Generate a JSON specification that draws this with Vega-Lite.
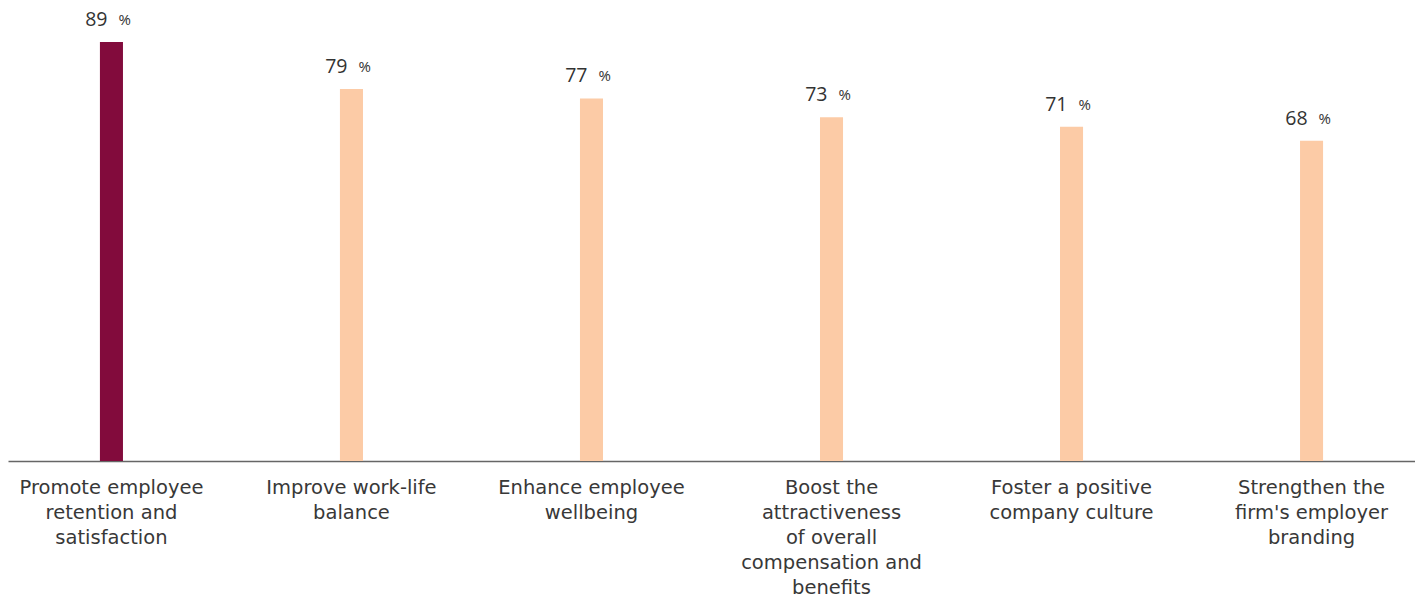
{
  "$schema": "https://vega.github.io/schema/vega-lite/v6.json",
  "autosize": "none",
  "width": 1407,
  "height": 419,
  "padding": {"left": 8, "top": 42, "right": 0, "bottom": 145},
  "background": "#ffffff",
  "config": {"view": {"stroke": null}, "font": "Open Sans"},
  "data": {
    "values": [
      {"goal": "Promote employee retention and satisfaction", "pct": 89, "highlight": "yes"},
      {"goal": "Improve work-life balance", "pct": 79, "highlight": "no"},
      {"goal": "Enhance employee wellbeing", "pct": 77, "highlight": "no"},
      {"goal": "Boost the attractiveness of overall compensation and benefits", "pct": 73, "highlight": "no"},
      {"goal": "Foster a positive company culture", "pct": 71, "highlight": "no"},
      {"goal": "Strengthen the firm's employer branding", "pct": 68, "highlight": "no"}
    ]
  },
  "encoding": {
    "x": {
      "field": "goal",
      "type": "nominal",
      "sort": null,
      "scale": {"paddingInner": 0.904, "paddingOuter": 0.383},
      "axis": {
        "title": null,
        "labelAngle": 0,
        "ticks": false,
        "domainColor": "#666666",
        "domainWidth": 1.5,
        "labelFont": "DejaVu Sans",
        "labelFontSize": 19.5,
        "labelFontWeight": "normal",
        "labelColor": "#383838",
        "labelPadding": 17,
        "labelLineHeight": 25,
        "labelLimit": 0,
        "labelExpr": "datum.value == 'Promote employee retention and satisfaction' ? ['Promote employee', 'retention and', 'satisfaction'] : datum.value == 'Improve work-life balance' ? ['Improve work-life', 'balance'] : datum.value == 'Enhance employee wellbeing' ? ['Enhance employee', 'wellbeing'] : datum.value == 'Boost the attractiveness of overall compensation and benefits' ? ['Boost the', 'attractiveness', 'of overall', 'compensation and', 'benefits'] : datum.value == 'Foster a positive company culture' ? ['Foster a positive', 'company culture'] : ['Strengthen the', 'firm\\'s employer', 'branding']"
      }
    },
    "y": {
      "field": "pct",
      "type": "quantitative",
      "scale": {"domain": [0, 89], "nice": false, "zero": true},
      "axis": null
    }
  },
  "layer": [
    {
      "mark": {"type": "bar"},
      "encoding": {
        "color": {
          "field": "highlight",
          "type": "nominal",
          "scale": {"domain": ["yes", "no"], "range": ["#820B3C", "#FCCBA6"]},
          "legend": null
        }
      }
    },
    {
      "mark": {"type": "text", "align": "right", "baseline": "alphabetic", "dx": -4, "dy": -16, "fontSize": 19.5, "color": "#333333", "font": "Open Sans"},
      "encoding": {"text": {"field": "pct", "type": "quantitative"}}
    },
    {
      "mark": {"type": "text", "align": "left", "baseline": "alphabetic", "dx": 7, "dy": -17, "fontSize": 15, "color": "#333333", "font": "Open Sans", "text": "%"},
      "encoding": {}
    }
  ]
}
